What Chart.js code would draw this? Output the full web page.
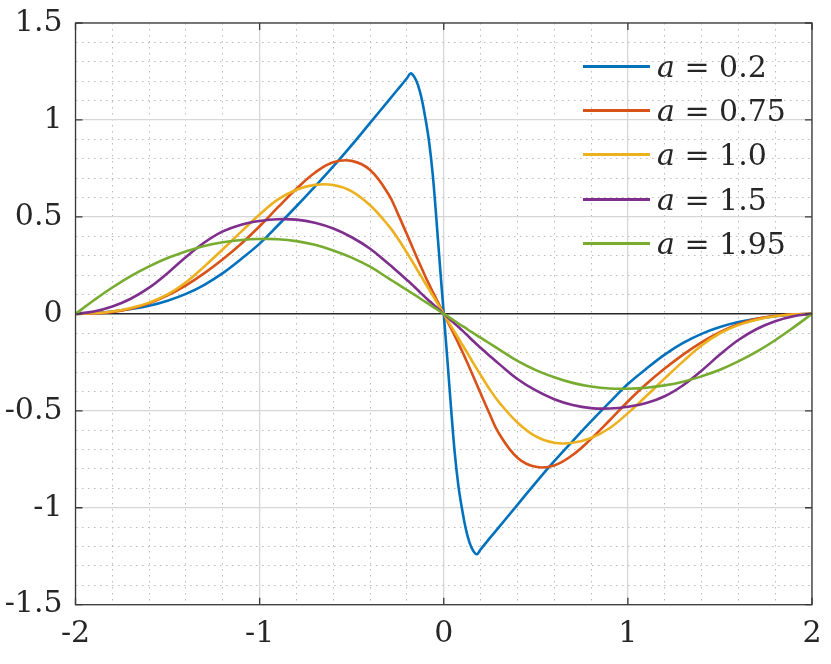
<!DOCTYPE html>
<html>
<head>
<meta charset="utf-8">
<script src="https://cdn.jsdelivr.net/npm/chart.js@4.4.1/dist/chart.umd.min.js"></script>
<style>
  body { margin: 0; background: #fff; }
  #wrap { position: relative; width: 831px; height: 664px; }
  #legend {
    position: absolute; left: 583px; top: 44px;
    font-family: 'DejaVu Serif', serif; font-size: 30px; color: #262626;
  }
  .item { display: flex; align-items: center; height: 44.3px; white-space: pre; }
  .swatch { width: 67px; height: 3px; margin-right: 7px; }
</style>
</head>
<body>
<div id="wrap">
  <canvas id="chart" width="831" height="664"></canvas>
  <div id="legend"></div>
</div>
<script>
// x positions (shared by all curves)
const xs = [-2, -1.9, -1.8, -1.7, -1.6, -1.5, -1.4, -1.3, -1.2, -1.1, -1.0, -0.9, -0.8, -0.7, -0.6, -0.5, -0.4, -0.3, -0.25, -0.2,
  -0.18, -0.16, -0.14, -0.12, -0.1, -0.08, -0.06, -0.04, -0.02, 0,
  0.02, 0.04, 0.06, 0.08, 0.1, 0.12, 0.14, 0.16, 0.18, 0.2, 0.25, 0.3, 0.4, 0.5, 0.6, 0.7, 0.8, 0.9, 1.0,
  1.1, 1.2, 1.3, 1.4, 1.5, 1.6, 1.7, 1.8, 1.9, 2];

const yA020 = [0, 0.003, 0.012, 0.025, 0.042, 0.068, 0.103, 0.15, 0.21, 0.283, 0.362, 0.457, 0.555, 0.656, 0.76, 0.87, 0.985, 1.1, 1.157, 1.215,
  1.24, 1.222, 1.18, 1.11, 1.01, 0.89, 0.72, 0.49, 0.24, 0,
  -0.24, -0.49, -0.72, -0.89, -1.01, -1.11, -1.18, -1.222, -1.24, -1.215, -1.157, -1.1, -0.985, -0.87, -0.76, -0.656, -0.555, -0.457, -0.362,
  -0.283, -0.21, -0.15, -0.103, -0.068, -0.042, -0.025, -0.012, -0.003, 0];

const yA075 = [0, 0.002, 0.01, 0.026, 0.054, 0.095, 0.147, 0.21, 0.282, 0.362, 0.452, 0.55, 0.645, 0.728, 0.782, 0.789, 0.742, 0.617, 0.518, 0.41,
  0.366, 0.322, 0.278, 0.235, 0.193, 0.153, 0.114, 0.076, 0.038, 0,
  -0.038, -0.076, -0.114, -0.153, -0.193, -0.235, -0.278, -0.322, -0.366, -0.41, -0.518, -0.617, -0.742, -0.789, -0.782, -0.728, -0.645, -0.55, -0.452,
  -0.362, -0.282, -0.21, -0.147, -0.095, -0.054, -0.026, -0.01, -0.002, 0];

const yA100 = [0, 0.003, 0.012, 0.03, 0.058, 0.1, 0.163, 0.245, 0.333, 0.424, 0.512, 0.59, 0.64, 0.665, 0.665, 0.632, 0.56, 0.455, 0.39, 0.315,
  0.284, 0.253, 0.221, 0.189, 0.158, 0.126, 0.095, 0.063, 0.032, 0,
  -0.032, -0.063, -0.095, -0.126, -0.158, -0.189, -0.221, -0.253, -0.284, -0.315, -0.39, -0.455, -0.56, -0.632, -0.665, -0.665, -0.64, -0.59, -0.512,
  -0.424, -0.333, -0.245, -0.163, -0.1, -0.058, -0.03, -0.012, -0.003, 0];

const yA150 = [0, 0.012, 0.038, 0.078, 0.135, 0.21, 0.293, 0.368, 0.425, 0.46, 0.479, 0.488, 0.486, 0.47, 0.44, 0.395, 0.336, 0.258, 0.217, 0.175,
  0.158, 0.14, 0.122, 0.103, 0.085, 0.068, 0.051, 0.034, 0.017, 0,
  -0.017, -0.034, -0.051, -0.068, -0.085, -0.103, -0.122, -0.14, -0.158, -0.175, -0.217, -0.258, -0.336, -0.395, -0.44, -0.47, -0.486, -0.488, -0.479,
  -0.46, -0.425, -0.368, -0.293, -0.21, -0.135, -0.078, -0.038, -0.012, 0];

const yA195 = [0, 0.07, 0.136, 0.195, 0.245, 0.288, 0.322, 0.35, 0.369, 0.381, 0.386, 0.385, 0.375, 0.356, 0.327, 0.29, 0.243, 0.183, 0.153, 0.123,
  0.111, 0.099, 0.087, 0.074, 0.062, 0.05, 0.037, 0.025, 0.012, 0,
  -0.012, -0.025, -0.037, -0.05, -0.062, -0.074, -0.087, -0.099, -0.111, -0.123, -0.153, -0.183, -0.243, -0.29, -0.327, -0.356, -0.375, -0.385, -0.386,
  -0.381, -0.369, -0.35, -0.322, -0.288, -0.245, -0.195, -0.136, -0.07, 0];

const aValues = ['0.2', '0.75', '1.0', '1.5', '1.95'];
const seriesColors = ['#0072BD', '#D95319', '#EDB120', '#7E2F8E', '#77AC30'];

const xMajorTicks = [-2, -1, 0, 1, 2];
const xTickLabels = ['-2', '-1', '0', '1', '2'];
const xMinorTicks = [-1.8, -1.6, -1.4, -1.2, -0.8, -0.6, -0.4, -0.2, 0.2, 0.4, 0.6, 0.8, 1.2, 1.4, 1.6, 1.8];
const yMajorTicks = [-1.5, -1, -0.5, 0, 0.5, 1, 1.5];
const yTickLabels = ['-1.5', '-1', '-0.5', '0', '0.5', '1', '1.5'];
const yMinorTicks = [-1.4, -1.3, -1.2, -1.1, -0.9, -0.8, -0.7, -0.6, -0.4, -0.3, -0.2, -0.1,
  0.1, 0.2, 0.3, 0.4, 0.6, 0.7, 0.8, 0.9, 1.1, 1.2, 1.3, 1.4];

const allSeries = [yA020, yA075, yA100, yA150, yA195];

function idxOf(v, arr) {
  return arr.findIndex(m => Math.abs(m - v) < 1e-9);
}

const tickFont = { family: "'DejaVu Serif', serif", size: 30 };
const axisColor = '#262626';

// caja de ejes y marcas hacia dentro, estilo MATLAB
const boxPlugin = {
  id: 'box',
  afterDatasetsDraw(chart) {
    const { ctx, chartArea: a, scales: { x, y } } = chart;
    ctx.save();
    ctx.strokeStyle = '#3a3a3a';
    ctx.lineWidth = 1.3;
    ctx.strokeRect(a.left, a.top, a.right - a.left, a.bottom - a.top);
    ctx.beginPath();
    xMajorTicks.forEach(v => {
      const p = x.getPixelForValue(v);
      ctx.moveTo(p, a.bottom); ctx.lineTo(p, a.bottom - 7);
      ctx.moveTo(p, a.top); ctx.lineTo(p, a.top + 7);
    });
    yMajorTicks.forEach(v => {
      const p = y.getPixelForValue(v);
      ctx.moveTo(a.left, p); ctx.lineTo(a.left + 7, p);
      ctx.moveTo(a.right, p); ctx.lineTo(a.right - 7, p);
    });
    ctx.stroke();
    ctx.restore();
  }
};

const datasets = allSeries.map((ys, i) => ({
  label: 'a = ' + aValues[i],
  data: xs.map((x, j) => ({ x: x, y: ys[j] })),
  borderColor: seriesColors[i],
  borderWidth: 2.6,
  pointRadius: 0,
  fill: false,
  tension: 0.4,
  order: allSeries.length - i
}));

new Chart(document.getElementById('chart'), {
  type: 'line',
  data: { datasets: datasets },
  plugins: [boxPlugin],
  options: {
    responsive: false,
    animation: false,
    devicePixelRatio: 1,
    layout: { padding: { top: 23, right: 19, left: 0, bottom: 0 } },
    plugins: { legend: { display: false }, tooltip: { enabled: false } },
    scales: {
      x: {
        type: 'linear', min: -2, max: 2,
        afterBuildTicks: s => {
          s.ticks = xMajorTicks.concat(xMinorTicks).sort((a, b) => a - b).map(v => ({ value: v }));
        },
        afterFit: s => { s.height = 59.3; s.paddingLeft = 0; s.paddingRight = 0; },
        ticks: {
          autoSkip: false, maxRotation: 0, padding: 12,
          font: tickFont, color: axisColor,
          callback: v => { const k = idxOf(v, xMajorTicks); return k >= 0 ? xTickLabels[k] : ''; }
        },
        grid: {
          drawTicks: false,
          color: c => idxOf(c.tick.value, xMajorTicks) >= 0 ? '#d6d6d6' : '#bdbdbd',
          lineWidth: c => idxOf(c.tick.value, xMajorTicks) >= 0 ? 1.3 : 1
        },
        border: {
          display: false,
          dash: c => (c.tick && idxOf(c.tick.value, xMajorTicks) >= 0) ? [] : [1.5, 4.5]
        }
      },
      y: {
        type: 'linear', min: -1.5, max: 1.5,
        afterBuildTicks: s => {
          s.ticks = yMajorTicks.concat(yMinorTicks).sort((a, b) => a - b).map(v => ({ value: v }));
        },
        afterFit: s => { s.width = 75.5; s.paddingTop = 0; s.paddingBottom = 0; },
        ticks: {
          autoSkip: false, padding: 13,
          font: tickFont, color: axisColor,
          callback: v => { const k = idxOf(v, yMajorTicks); return k >= 0 ? yTickLabels[k] : ''; }
        },
        grid: {
          drawTicks: false,
          color: c => Math.abs(c.tick.value) < 1e-9 ? '#262626' : (idxOf(c.tick.value, yMajorTicks) >= 0 ? '#d6d6d6' : '#bdbdbd'),
          lineWidth: c => Math.abs(c.tick.value) < 1e-9 ? 1.4 : (idxOf(c.tick.value, yMajorTicks) >= 0 ? 1.3 : 1)
        },
        border: {
          display: false,
          dash: c => (c.tick && idxOf(c.tick.value, yMajorTicks) >= 0) ? [] : [1.5, 4.5]
        }
      }
    }
  }
});

// leyenda en HTML para poder poner la "a" en cursiva
const legendEl = document.getElementById('legend');
aValues.forEach((v, i) => {
  const row = document.createElement('div');
  row.className = 'item';
  row.innerHTML = '<span class="swatch" style="background:' + seriesColors[i] + '"></span><i>a</i> = ' + v;
  legendEl.appendChild(row);
});
</script>
</body>
</html>
